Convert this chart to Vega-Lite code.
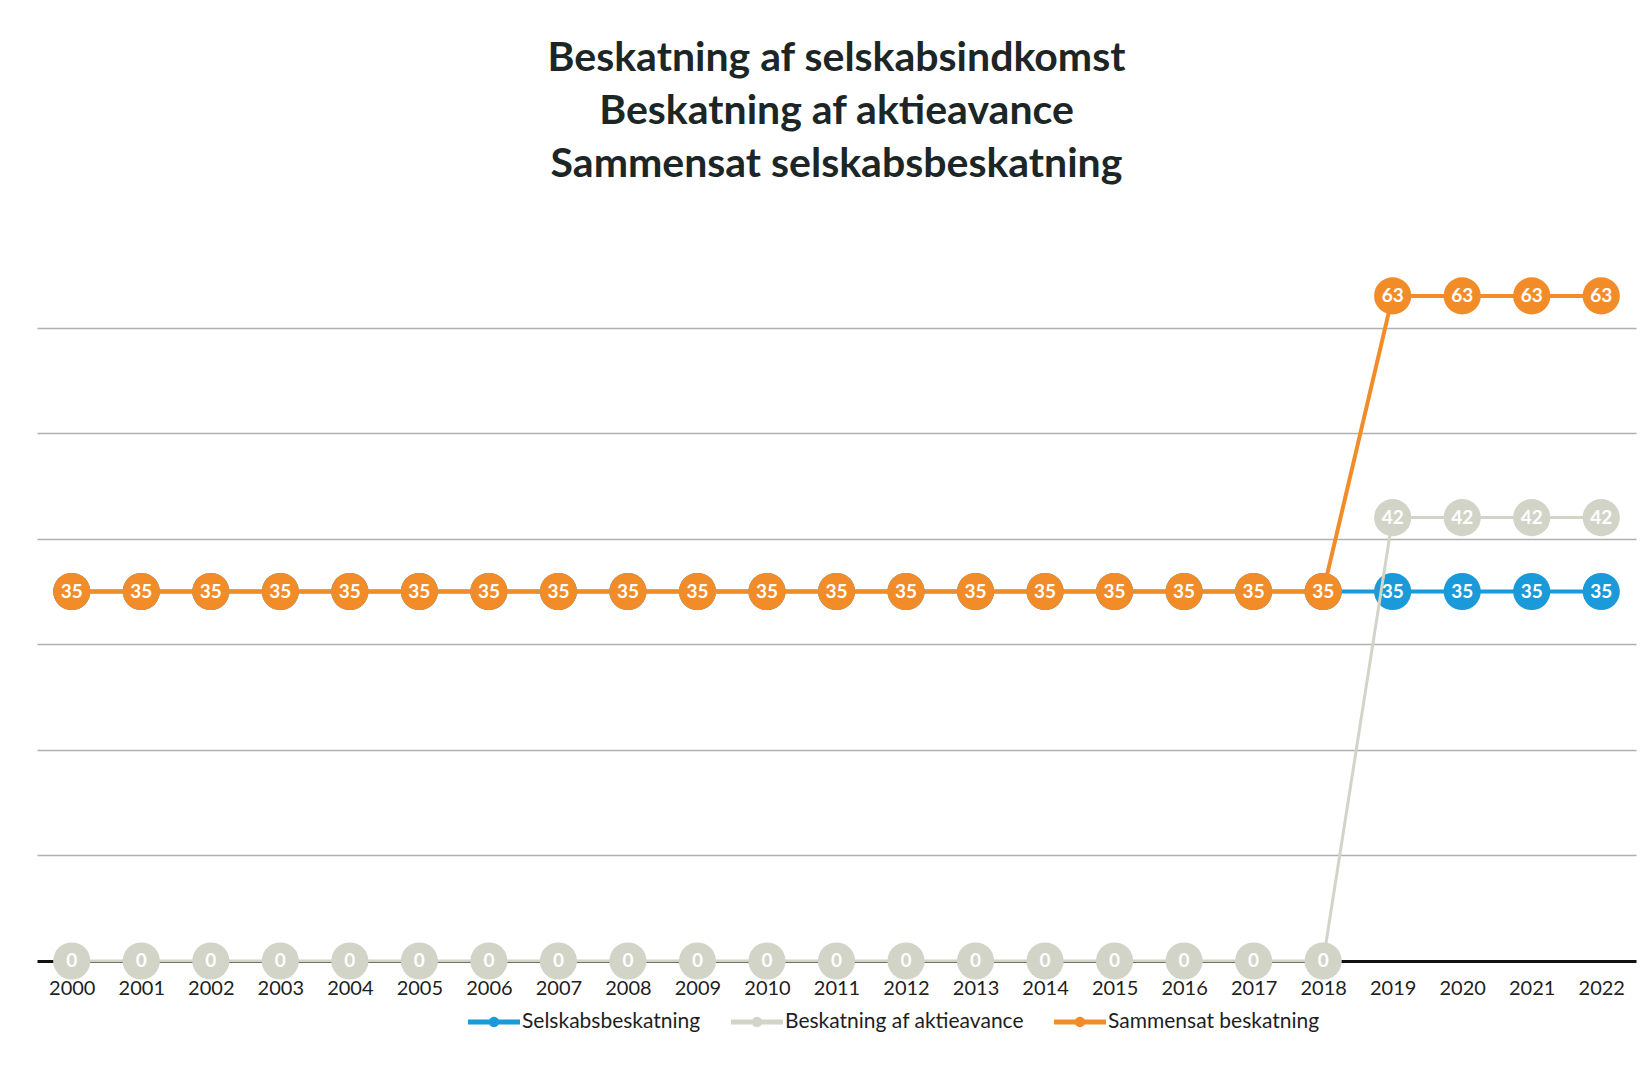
{
  "$schema": "https://vega.github.io/schema/vega-lite/v6.json",
  "autosize": {"type": "none"},
  "width": 1599,
  "height": 739,
  "padding": {"left": 37, "top": 222, "right": 6, "bottom": 104},
  "background": "white",
  "config": {
    "view": {"stroke": null},
    "font": "Lato"
  },
  "title": {
    "text": ["Beskatning af selskabsindkomst", "Beskatning af aktieavance", "Sammensat selskabsbeskatning"],
    "font": "Lato",
    "fontSize": 41,
    "fontWeight": "bold",
    "color": "#1c2626",
    "lineHeight": 53,
    "anchor": "middle",
    "frame": "group",
    "offset": 36
  },
  "data": {
    "values": [
      {"year": "2000", "series": "Selskabsbeskatning", "value": 35},
      {"year": "2001", "series": "Selskabsbeskatning", "value": 35},
      {"year": "2002", "series": "Selskabsbeskatning", "value": 35},
      {"year": "2003", "series": "Selskabsbeskatning", "value": 35},
      {"year": "2004", "series": "Selskabsbeskatning", "value": 35},
      {"year": "2005", "series": "Selskabsbeskatning", "value": 35},
      {"year": "2006", "series": "Selskabsbeskatning", "value": 35},
      {"year": "2007", "series": "Selskabsbeskatning", "value": 35},
      {"year": "2008", "series": "Selskabsbeskatning", "value": 35},
      {"year": "2009", "series": "Selskabsbeskatning", "value": 35},
      {"year": "2010", "series": "Selskabsbeskatning", "value": 35},
      {"year": "2011", "series": "Selskabsbeskatning", "value": 35},
      {"year": "2012", "series": "Selskabsbeskatning", "value": 35},
      {"year": "2013", "series": "Selskabsbeskatning", "value": 35},
      {"year": "2014", "series": "Selskabsbeskatning", "value": 35},
      {"year": "2015", "series": "Selskabsbeskatning", "value": 35},
      {"year": "2016", "series": "Selskabsbeskatning", "value": 35},
      {"year": "2017", "series": "Selskabsbeskatning", "value": 35},
      {"year": "2018", "series": "Selskabsbeskatning", "value": 35},
      {"year": "2019", "series": "Selskabsbeskatning", "value": 35},
      {"year": "2020", "series": "Selskabsbeskatning", "value": 35},
      {"year": "2021", "series": "Selskabsbeskatning", "value": 35},
      {"year": "2022", "series": "Selskabsbeskatning", "value": 35},
      {"year": "2000", "series": "Beskatning af aktieavance", "value": 0},
      {"year": "2001", "series": "Beskatning af aktieavance", "value": 0},
      {"year": "2002", "series": "Beskatning af aktieavance", "value": 0},
      {"year": "2003", "series": "Beskatning af aktieavance", "value": 0},
      {"year": "2004", "series": "Beskatning af aktieavance", "value": 0},
      {"year": "2005", "series": "Beskatning af aktieavance", "value": 0},
      {"year": "2006", "series": "Beskatning af aktieavance", "value": 0},
      {"year": "2007", "series": "Beskatning af aktieavance", "value": 0},
      {"year": "2008", "series": "Beskatning af aktieavance", "value": 0},
      {"year": "2009", "series": "Beskatning af aktieavance", "value": 0},
      {"year": "2010", "series": "Beskatning af aktieavance", "value": 0},
      {"year": "2011", "series": "Beskatning af aktieavance", "value": 0},
      {"year": "2012", "series": "Beskatning af aktieavance", "value": 0},
      {"year": "2013", "series": "Beskatning af aktieavance", "value": 0},
      {"year": "2014", "series": "Beskatning af aktieavance", "value": 0},
      {"year": "2015", "series": "Beskatning af aktieavance", "value": 0},
      {"year": "2016", "series": "Beskatning af aktieavance", "value": 0},
      {"year": "2017", "series": "Beskatning af aktieavance", "value": 0},
      {"year": "2018", "series": "Beskatning af aktieavance", "value": 0},
      {"year": "2019", "series": "Beskatning af aktieavance", "value": 42},
      {"year": "2020", "series": "Beskatning af aktieavance", "value": 42},
      {"year": "2021", "series": "Beskatning af aktieavance", "value": 42},
      {"year": "2022", "series": "Beskatning af aktieavance", "value": 42},
      {"year": "2000", "series": "Sammensat beskatning", "value": 35},
      {"year": "2001", "series": "Sammensat beskatning", "value": 35},
      {"year": "2002", "series": "Sammensat beskatning", "value": 35},
      {"year": "2003", "series": "Sammensat beskatning", "value": 35},
      {"year": "2004", "series": "Sammensat beskatning", "value": 35},
      {"year": "2005", "series": "Sammensat beskatning", "value": 35},
      {"year": "2006", "series": "Sammensat beskatning", "value": 35},
      {"year": "2007", "series": "Sammensat beskatning", "value": 35},
      {"year": "2008", "series": "Sammensat beskatning", "value": 35},
      {"year": "2009", "series": "Sammensat beskatning", "value": 35},
      {"year": "2010", "series": "Sammensat beskatning", "value": 35},
      {"year": "2011", "series": "Sammensat beskatning", "value": 35},
      {"year": "2012", "series": "Sammensat beskatning", "value": 35},
      {"year": "2013", "series": "Sammensat beskatning", "value": 35},
      {"year": "2014", "series": "Sammensat beskatning", "value": 35},
      {"year": "2015", "series": "Sammensat beskatning", "value": 35},
      {"year": "2016", "series": "Sammensat beskatning", "value": 35},
      {"year": "2017", "series": "Sammensat beskatning", "value": 35},
      {"year": "2018", "series": "Sammensat beskatning", "value": 35},
      {"year": "2019", "series": "Sammensat beskatning", "value": 63},
      {"year": "2020", "series": "Sammensat beskatning", "value": 63},
      {"year": "2021", "series": "Sammensat beskatning", "value": 63},
      {"year": "2022", "series": "Sammensat beskatning", "value": 63}
    ]
  },
  "encoding": {
    "x": {
      "field": "year",
      "type": "ordinal",
      "scale": {"type": "point", "padding": 0.5},
      "axis": {
        "title": null,
        "labelAngle": 0,
        "ticks": false,
        "domainColor": "#111111",
        "domainWidth": 3,
        "labelFont": "Lato",
        "labelFontSize": 20,
        "labelColor": "#1e1e1e",
        "labelPadding": 17,
        "grid": false
      }
    },
    "y": {
      "field": "value",
      "type": "quantitative",
      "scale": {"domain": [0, 70], "nice": false},
      "axis": {
        "title": null,
        "labels": false,
        "ticks": false,
        "domain": false,
        "grid": true,
        "values": [10, 20, 30, 40, 50, 60],
        "gridColor": "#b0b0b0",
        "gridWidth": 1.5
      }
    }
  },
  "layer": [
    {
      "transform": [{"filter": "datum.series === 'Selskabsbeskatning'"}],
      "mark": {"type": "line", "strokeWidth": 4, "point": {"filled": true, "size": 1385, "opacity": 1}},
      "encoding": {
        "color": {
          "field": "series",
          "type": "nominal",
          "scale": {
            "domain": ["Selskabsbeskatning", "Beskatning af aktieavance", "Sammensat beskatning"],
            "range": ["#1a9ad8", "#d2d4c8", "#f28c28"]
          },
          "legend": {
            "title": null,
            "orient": "none",
            "direction": "horizontal",
            "legendX": 431,
            "legendY": 774,
            "symbolType": "M-1,-0.1H1V0.1H-1Z M0.2,0 A0.2,0.2 0 1,1 -0.2,0 A0.2,0.2 0 1,1 0.2,0Z",
            "symbolSize": 2704,
            "symbolStrokeWidth": 0,
            "labelFont": "Lato",
            "labelFontSize": 21,
            "labelLimit": 0,
            "labelColor": "#1e1e1e",
            "labelOffset": 2,
            "columnPadding": 30,
            "encode": {
              "symbols": {
                "update": {
                  "fill": {"scale": "color", "field": "value"},
                  "strokeWidth": {"value": 0},
                  "opacity": {"value": 1}
                }
              }
            }
          }
        }
      }
    },
    {
      "transform": [{"filter": "datum.series === 'Selskabsbeskatning'"}],
      "mark": {"type": "text", "color": "white", "fontSize": 19, "fontWeight": "bold", "font": "Lato"},
      "encoding": {"text": {"field": "value", "type": "quantitative"}}
    },
    {
      "transform": [{"filter": "datum.series === 'Beskatning af aktieavance'"}],
      "mark": {"type": "line", "strokeWidth": 3, "point": {"filled": true, "size": 1385, "opacity": 1}},
      "encoding": {"color": {"field": "series", "type": "nominal"}}
    },
    {
      "transform": [{"filter": "datum.series === 'Beskatning af aktieavance'"}],
      "mark": {"type": "text", "color": "white", "fontSize": 19, "fontWeight": "bold", "font": "Lato"},
      "encoding": {"text": {"field": "value", "type": "quantitative"}}
    },
    {
      "transform": [{"filter": "datum.series === 'Sammensat beskatning'"}],
      "mark": {"type": "line", "strokeWidth": 4, "point": {"filled": true, "size": 1385, "opacity": 1}},
      "encoding": {"color": {"field": "series", "type": "nominal"}}
    },
    {
      "transform": [{"filter": "datum.series === 'Sammensat beskatning'"}],
      "mark": {"type": "text", "color": "white", "fontSize": 19, "fontWeight": "bold", "font": "Lato"},
      "encoding": {"text": {"field": "value", "type": "quantitative"}}
    }
  ]
}
